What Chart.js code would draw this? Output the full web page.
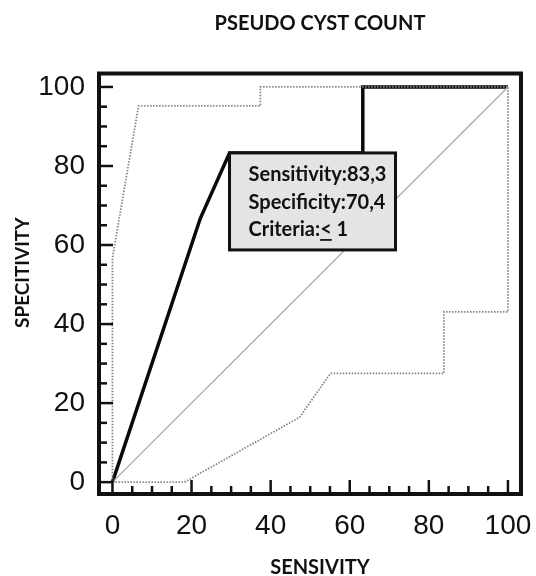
<!DOCTYPE html>
<html>
<head>
<meta charset="utf-8">
<script src="https://cdn.jsdelivr.net/npm/chart.js@4/dist/chart.umd.min.js"></script>
<style>
  body { margin: 0; background: #fff; }
  #wrap { width: 536px; height: 576px; }
</style>
</head>
<body>
<div id="wrap"><canvas id="roc"></canvas></div>
<script>
// curva ROC y limites de confianza
const rocX = [0, 22.2, 29.6, 63.3, 63.3, 100];
const rocY = [0, 66.7, 83.3, 83.3, 100, 100];
const upperX = [0, 0, 6.6, 37.4, 37.4, 100];
const upperY = [0, 56.7, 95.2, 95.2, 100, 100];
const lowerX = [0, 18.2, 47.3, 55.1, 83.8, 83.8, 100, 100];
const lowerY = [0, 0, 16.4, 27.5, 27.5, 43.1, 43.1, 100];
const diagX = [0, 100];
const diagY = [0, 100];
const tickValues = [0, 20, 40, 60, 80, 100];
const cutoffPoint = [29.6, 83.3];
const boxLines = ['Sensitivity:83,3', 'Specificity:70,4', 'Criteria:', '<', ' 1'];
const chartTitle = 'PSEUDO CYST COUNT';
const xTitle = 'SENSIVITY';
const yTitle = 'SPECITIVITY';

const toPoints = (xs, ys) => xs.map((v, i) => ({ x: v, y: ys[i] }));

// titulos (un poco corridos a la derecha como en el original)
const titles = {
  id: 'titles',
  afterDraw(chart) {
    const { ctx, chartArea: a } = chart;
    const cx = (a.left + a.right) / 2 + 10;
    ctx.save();
    ctx.fillStyle = '#111';
    ctx.textAlign = 'center';
    ctx.textBaseline = 'middle';
    ctx.font = 'bold 20px Lato';
    ctx.fillText(chartTitle, cx, 24);
    ctx.fillText(xTitle, cx, 568);
    ctx.translate(22.5, (a.top + a.bottom) / 2 - 11);
    ctx.rotate(-Math.PI / 2);
    ctx.font = 'bold 19px Lato';
    ctx.fillText(yTitle, 0, 0);
    ctx.restore();
  }
};

// marco y marcas hacia adentro
const frameAndTicks = {
  id: 'frameAndTicks',
  afterDraw(chart) {
    const { ctx, chartArea: a, scales: { x, y } } = chart;
    ctx.save();
    ctx.strokeStyle = '#111';
    ctx.lineWidth = 2.5;
    for (let v = 0; v <= 100; v += 5) {
      const len = v % 20 === 0 ? 14 : 8;
      const px = x.getPixelForValue(v);
      ctx.beginPath(); ctx.moveTo(px, a.bottom); ctx.lineTo(px, a.bottom - len); ctx.stroke();
      const py = y.getPixelForValue(v);
      ctx.beginPath(); ctx.moveTo(a.left, py); ctx.lineTo(a.left + len, py); ctx.stroke();
    }
    ctx.lineWidth = 4;
    ctx.strokeRect(a.left, a.top, a.right - a.left, a.bottom - a.top);
    ctx.restore();
  }
};

// recuadro con el punto de corte
const cutoffBox = {
  id: 'cutoffBox',
  afterDatasetsDraw(chart) {
    const { ctx, scales: { x, y } } = chart;
    const bx = x.getPixelForValue(cutoffPoint[0]);
    const by = y.getPixelForValue(cutoffPoint[1]);
    const w = 166, h = 97;
    ctx.save();
    ctx.fillStyle = '#e4e4e4';
    ctx.fillRect(bx, by, w, h);
    ctx.strokeStyle = '#111';
    ctx.lineWidth = 3;
    ctx.strokeRect(bx, by, w, h);
    ctx.fillStyle = '#111';
    ctx.font = 'bold 20px Lato';
    ctx.textBaseline = 'middle';
    const tx = bx + 19;
    ctx.fillText(boxLines[0], tx, by + 22);
    ctx.fillText(boxLines[1], tx, by + 50);
    const ly = by + 77;
    ctx.fillText(boxLines[2], tx, ly);
    const w1 = ctx.measureText(boxLines[2]).width;
    ctx.fillText(boxLines[3], tx + w1, ly);
    const w2 = ctx.measureText(boxLines[3]).width;
    ctx.fillText(boxLines[4], tx + w1 + w2, ly);
    ctx.lineWidth = 1.8;
    ctx.beginPath(); ctx.moveTo(tx + w1, ly + 10); ctx.lineTo(tx + w1 + w2, ly + 10); ctx.stroke();
    ctx.restore();
  }
};

const dotted = { borderColor: '#858585', borderWidth: 1.8, borderDash: [1.5, 1.5] };

new Chart(document.getElementById('roc'), {
  type: 'scatter',
  data: {
    datasets: [
      { data: toPoints(diagX, diagY), borderColor: '#a8a8a8', borderWidth: 1.3 },
      { data: toPoints(upperX, upperY), ...dotted },
      { data: toPoints(lowerX, lowerY), ...dotted },
      { data: toPoints(rocX, rocY), borderColor: '#0a0a0a', borderWidth: 3.5 }
    ]
  },
  options: {
    responsive: true,
    maintainAspectRatio: false,
    animation: false,
    showLine: true,
    elements: { point: { radius: 0, hoverRadius: 0 }, line: { tension: 0, borderCapStyle: 'butt' } },
    layout: { padding: { left: 0, right: 15, top: 73.5, bottom: 0 } },
    plugins: {
      legend: { display: false },
      tooltip: { enabled: false },
      title: { display: false }
    },
    scales: {
      x: {
        type: 'linear',
        min: -3.4, max: 103.3,
        afterBuildTicks: s => { s.ticks = tickValues.map(v => ({ value: v })); },
        afterFit: s => { s.height = 82; s.paddingLeft = 0; s.paddingRight = 0; },
        grid: { display: false, drawTicks: false },
        border: { display: false },
        ticks: { color: '#111', padding: 15, font: { family: 'Liberation Sans', size: 28 } }
      },
      y: {
        type: 'linear',
        min: -3.0, max: 103.4,
        afterBuildTicks: s => { s.ticks = tickValues.map(v => ({ value: v })); },
        afterFit: s => { s.width = 99; s.paddingTop = 0; s.paddingBottom = 0; },
        grid: { display: false, drawTicks: false },
        border: { display: false },
        ticks: { color: '#111', padding: 14, font: { family: 'Liberation Sans', size: 28 } }
      }
    }
  },
  plugins: [cutoffBox, frameAndTicks, titles]
});
</script>
</body>
</html>
